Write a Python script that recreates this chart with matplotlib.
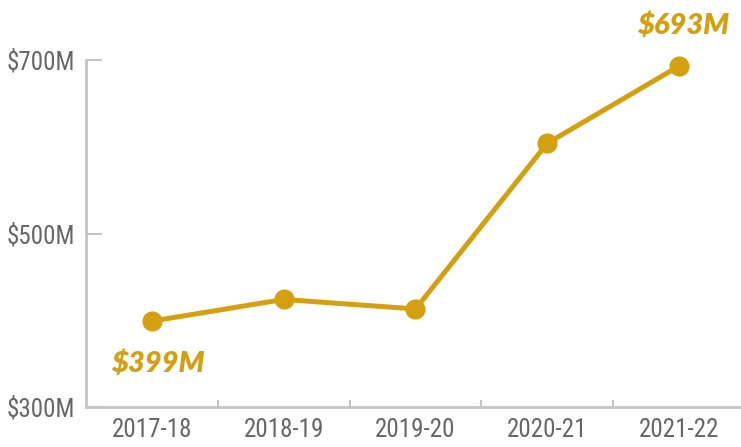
import matplotlib
matplotlib.use("Agg")
import matplotlib.pyplot as plt
from matplotlib.ticker import FixedLocator

years = ["2017-18", "2018-19", "2019-20", "2020-21", "2021-22"]
spend = [399, 424, 413, 604, 693]   # $M
y_ticks = [300, 500, 700]
y_labels = ["$300M", "$500M", "$700M"]

gold = "#d4a010"
grey_axis = "#c4c4c4"
grey_text = "#666666"
tick_font = ["Roboto Condensed", "Liberation Sans Narrow", "Roboto", "DejaVu Sans"]

fig = plt.figure(figsize=(7.41, 4.47), dpi=100)
ax = fig.add_axes([86 / 741, 40 / 447, 1 - 86 / 741, (407 - 60) / 447])

x = list(range(len(years)))
ax.plot(x, spend, color=gold, lw=3.6, marker="o", markersize=13.5,
        clip_on=False, zorder=3)

ax.set_xlim(-0.5, 4.47)
ax.set_ylim(300, 700)

for s in ["top", "right"]:
    ax.spines[s].set_visible(False)
for s in ["left", "bottom"]:
    ax.spines[s].set_color(grey_axis)
    ax.spines[s].set_linewidth(2)

ax.set_yticks(y_ticks)
ax.set_yticklabels(y_labels, family=tick_font, fontsize=18, color=grey_text)
ax.tick_params(axis="y", direction="in", length=11.5, width=1.5,
               color=grey_axis, pad=8)

ax.set_xticks(x)
ax.set_xticklabels(years, family=tick_font, fontsize=18, color=grey_text)
ax.tick_params(axis="x", which="major", length=0, pad=8)
ax.xaxis.set_minor_locator(FixedLocator([0.5, 1.5, 2.5, 3.5]))
ax.tick_params(axis="x", which="minor", direction="in", length=5,
               width=1.5, color=grey_axis)

ax.annotate("$399M", (0, spend[0]), xytext=(4, -31), textcoords="offset points",
            ha="center", va="center", color=gold, fontsize=21,
            family="Lato", weight="heavy", style="italic")
ax.annotate("$693M", (4, spend[4]), xytext=(3, 29), textcoords="offset points",
            ha="center", va="center", color=gold, fontsize=21,
            family="Lato", weight="heavy", style="italic",
            annotation_clip=False)

fig.savefig("out.png", dpi=100)
